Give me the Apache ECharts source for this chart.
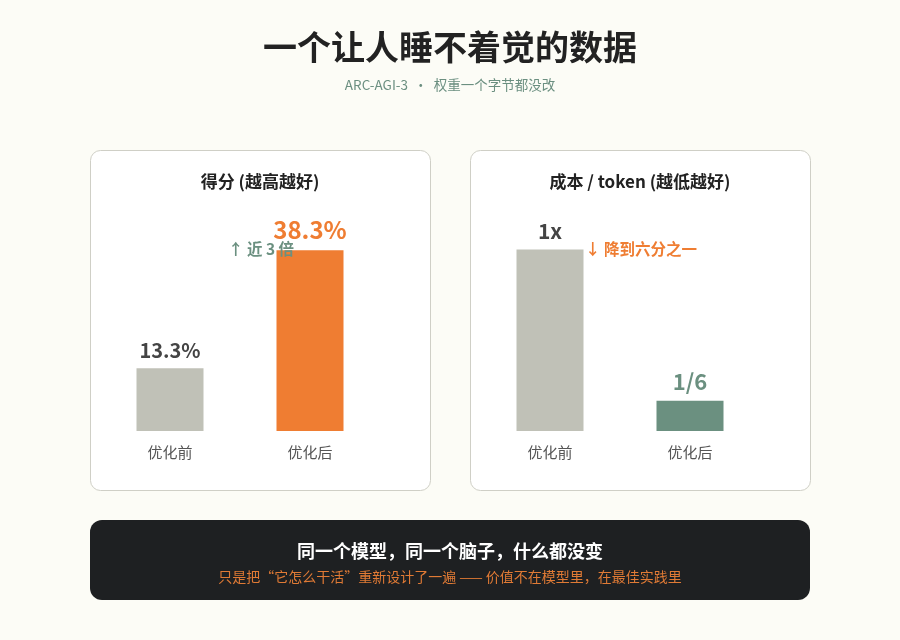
<!DOCTYPE html>
<html>
<head>
<meta charset="utf-8">
<title>一个让人睡不着觉的数据</title>
<script src="https://cdn.jsdelivr.net/npm/echarts@6/dist/echarts.min.js"></script>
<style>
  html, body { margin: 0; padding: 0; background: #fcfcf6; }
  #main { width: 900px; height: 640px; }
</style>
</head>
<body>
<div id="main"></div>
<script type="text/javascript">
    // 数据
    var categories = ['优化前', '优化后'];
    var scoreValues = [13.3, 38.3];
    var scoreLabels = ['13.3%', '38.3%'];
    var costValues = [1, 1 / 6];
    var costLabels = ['1x', '1/6'];

    var FONT = '"Noto Sans CJK SC", "Noto Sans", sans-serif';
    var GRAY = '#c0c1b7';
    var ORANGE = '#ef7d32';
    var GREEN = '#6b9080';
    var DARK = '#444444';

    var myChart = echarts.init(document.getElementById('main'));

    function panel(x) {
        return {
            type: 'rect', z: -10,
            shape: { x: x + 0.5, y: 150.5, width: 340, height: 340, r: 10 },
            style: { fill: '#ffffff', stroke: '#cfcfc6', lineWidth: 1 }
        };
    }
    function txt(x, y, text, size, color, weight) {
        return {
            type: 'text', x: x, y: y, z: 100,
            style: {
                text: text, fontSize: size, fill: color, fontWeight: weight || 'normal',
                fontFamily: FONT, align: 'center', verticalAlign: 'middle'
            }
        };
    }

    var labelStyle = function (color, size) {
        return { show: true, position: 'top', distance: 8, color: color, fontSize: size, fontWeight: 'bold', fontFamily: FONT };
    };

    myChart.setOption({
        backgroundColor: '#fcfcf6',
        textStyle: { fontFamily: FONT },
        animation: false,
        grid: [
            { left: 100, width: 280, top: 195, height: 236 },
            { left: 480, width: 280, top: 195, height: 236 }
        ],
        xAxis: [0, 1].map(function (i) {
            return {
                type: 'category', gridIndex: i, data: categories,
                axisLine: { show: false }, axisTick: { show: false },
                axisLabel: { color: '#555', fontSize: 15, margin: 14, fontFamily: FONT }
            };
        }),
        yAxis: [
            { type: 'value', gridIndex: 0, min: 0, max: 50, show: false, splitLine: { show: false } },
            { type: 'value', gridIndex: 1, min: 0, max: 1.3, show: false, splitLine: { show: false } }
        ],
        series: [
            {
                type: 'bar', xAxisIndex: 0, yAxisIndex: 0, barWidth: 67,
                data: [
                    { value: scoreValues[0], itemStyle: { color: GRAY }, label: Object.assign(labelStyle(DARK, 20), { formatter: scoreLabels[0] }) },
                    { value: scoreValues[1], itemStyle: { color: ORANGE }, label: Object.assign(labelStyle(ORANGE, 24), { formatter: scoreLabels[1] }) }
                ]
            },
            {
                type: 'bar', xAxisIndex: 1, yAxisIndex: 1, barWidth: 67,
                data: [
                    { value: costValues[0], itemStyle: { color: GRAY }, label: Object.assign(labelStyle(DARK, 21), { formatter: costLabels[0] }) },
                    { value: costValues[1], itemStyle: { color: GREEN }, label: Object.assign(labelStyle(GREEN, 22), { formatter: costLabels[1] }) }
                ]
            }
        ],
        graphic: [
            panel(90),
            panel(470),
            txt(450, 47, '一个让人睡不着觉的数据', 34, '#222222', 'bold'),
            txt(450, 85, 'ARC-AGI-3  ·  权重一个字节都没改', 13.5, '#6b8f80'),
            txt(260, 182, '得分 (越高越好)', 17, '#222222', 'bold'),
            txt(640, 182, '成本 / token (越低越好)', 17, '#222222', 'bold'),
            txt(261, 249, '↑ 近 3 倍', 15.5, GREEN, 'bold'),
            txt(641, 249, '↓ 降到六分之一', 15.5, ORANGE, 'bold'),
            {
                type: 'rect', z: -10,
                shape: { x: 90, y: 520, width: 720, height: 80, r: 12 },
                style: { fill: '#1e2022' }
            },
            txt(450, 551, '同一个模型，同一个脑子，什么都没变', 18, '#ffffff', 'bold'),
            txt(450, 577, '只是把“它怎么干活”重新设计了一遍 —— 价值不在模型里，在最佳实践里', 14, '#e07a35')
        ]
    });
</script>
</body>
</html>
